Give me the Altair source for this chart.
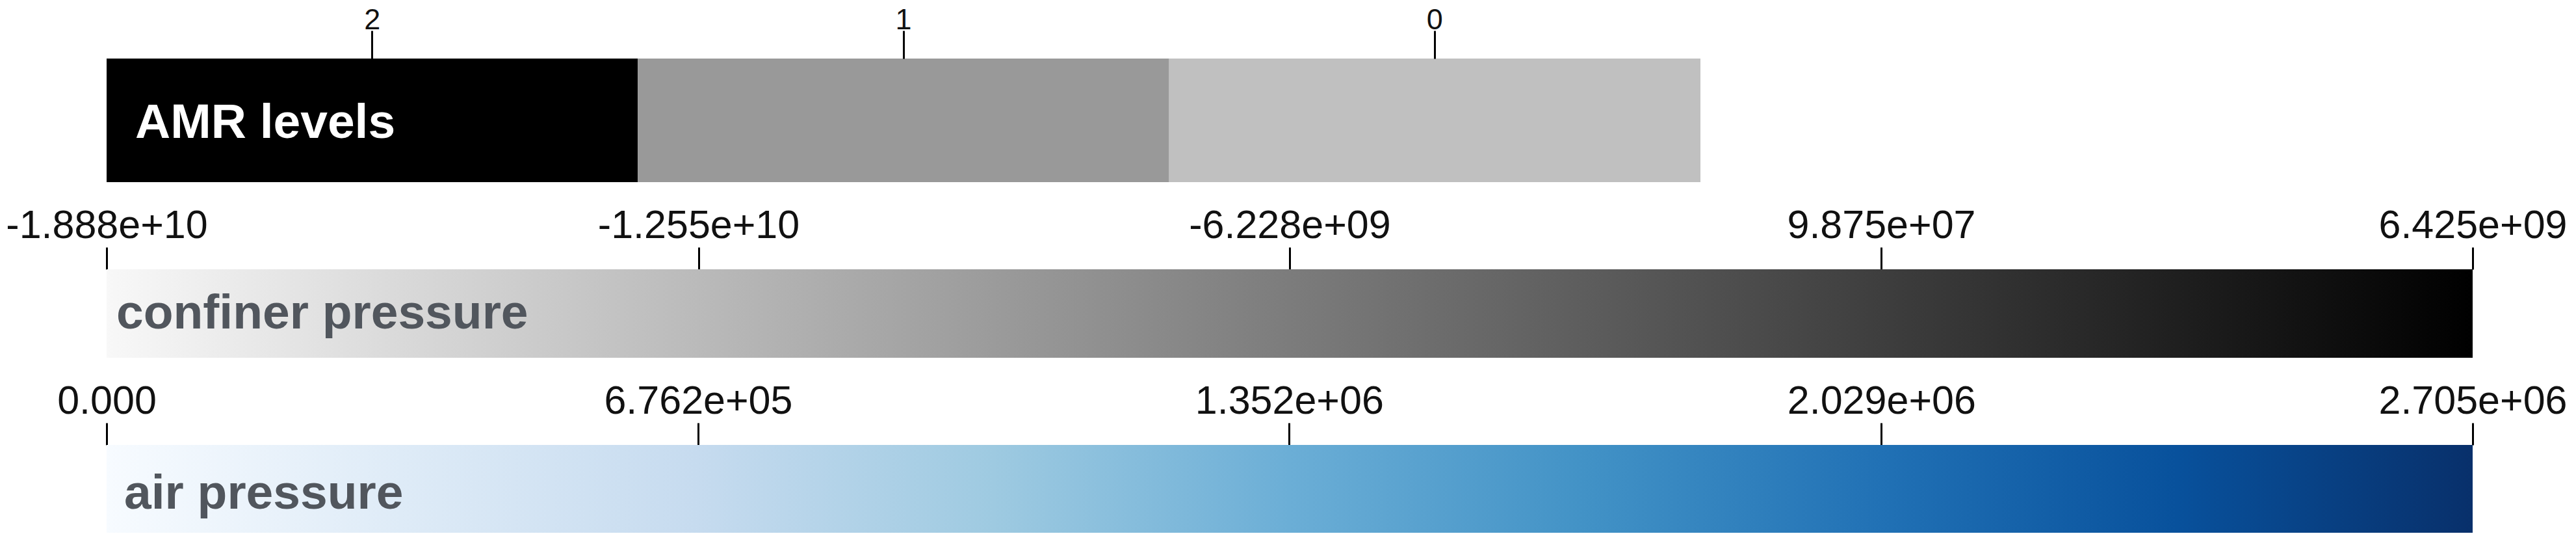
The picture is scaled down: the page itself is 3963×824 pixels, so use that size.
import altair as alt
import pandas as pd

# ---- data ----
amr_levels = ["2", "1", "0"]
amr_colors = ["#000000", "#999999", "#c0c0c0"]

confiner_ticks = [-1.888e10, -1.255e10, -6.228e9, 9.875e7, 6.425e9]
confiner_labels = ["-1.888e+10", "-1.255e+10", "-6.228e+09", "9.875e+07", "6.425e+09"]
confiner_colors = ["#f8f8f8", "#000000"]

air_ticks = [0.0, 6.762e5, 1.352e6, 2.029e6, 2.705e6]
air_labels = ["0.000", "6.762e+05", "1.352e+06", "2.029e+06", "2.705e+06"]
air_colors = ["#f7fbff", "#deebf7", "#c6dbef", "#9ecae1", "#6baed6",
              "#4292c6", "#2171b5", "#08519c", "#08306b"]

titles = ["AMR levels", "confiner pressure", "air pressure"]

FONT = "Liberation Sans"
TITLE_COLOR = "#51565d"


def label_expr(vals, labs):
    expr = "''"
    for v, l in reversed(list(zip(vals, labs))):
        expr = f"datum.value == {v!r} ? '{l}' : ({expr})"
    return expr


def gradient(colors):
    n = len(colors)
    return alt.LinearGradient(
        gradient="linear", x1=0, x2=1, y1=0, y2=0,
        stops=[alt.GradientStop(color=c, offset=i / (n - 1)) for i, c in enumerate(colors)],
    )


def top_axis(tick_size, font_size, pad, **kw):
    return alt.Axis(
        orient="top", title=None, domain=False, grid=False,
        tickSize=tick_size, tickWidth=3, tickColor="#000000",
        labelFont=FONT, labelFontSize=font_size, labelColor="#111111",
        labelBaseline="alphabetic", labelPadding=pad, labelAngle=0,
        labelOverlap=False, labelFlush=False, labelLimit=0, **kw,
    )


# ---- AMR levels panel ----
amr_df = pd.DataFrame({"level": amr_levels})
amr_bar = alt.Chart(amr_df).mark_rect().encode(
    x=alt.X("level:N", sort=amr_levels,
            scale=alt.Scale(domain=amr_levels, paddingInner=0, paddingOuter=0),
            axis=top_axis(43, 45, 3)),
    color=alt.Color("level:N", scale=alt.Scale(domain=amr_levels, range=amr_colors), legend=None),
)
amr_text = alt.Chart(pd.DataFrame({"t": [titles[0]]})).mark_text(
    align="left", baseline="alphabetic", font=FONT, fontSize=75, fontWeight="bold", color="#ffffff"
).encode(x=alt.value(44), y=alt.value(122), text="t:N")
amr = alt.layer(amr_bar, amr_text).properties(width=2452, height=190)


# ---- continuous colour bars ----
def colorbar(ticks, labels, colors, title, tx, ty, height):
    df = pd.DataFrame({"lo": [ticks[0]], "hi": [ticks[-1]]})
    bar = alt.Chart(df).mark_rect(color=gradient(colors)).encode(
        x=alt.X("lo:Q", scale=alt.Scale(domain=[ticks[0], ticks[-1]], nice=False, zero=False),
                axis=top_axis(34, 61, 15, values=ticks, labelExpr=label_expr(ticks, labels))),
        x2="hi:Q",
    )
    text = alt.Chart(pd.DataFrame({"t": [title]})).mark_text(
        align="left", baseline="alphabetic", font=FONT, fontSize=75, fontWeight="bold",
        color=TITLE_COLOR,
    ).encode(x=alt.value(tx), y=alt.value(ty), text="t:N")
    return alt.layer(bar, text).properties(width=3640, height=height)


confiner = colorbar(confiner_ticks, confiner_labels, confiner_colors, titles[1], 15, 91, 136)
air = colorbar(air_ticks, air_labels, air_colors, titles[2], 27, 98, 135)

chart = (
    alt.vconcat(amr, confiner, air, spacing=134, bounds="flush")
    .resolve_scale(x="independent", color="independent")
    .properties(padding={"left": 0, "top": 0, "right": 0, "bottom": 0})
    .configure_view(strokeWidth=0)
)

chart.save("out.html", embed_options={"renderer": "svg", "actions": False})
